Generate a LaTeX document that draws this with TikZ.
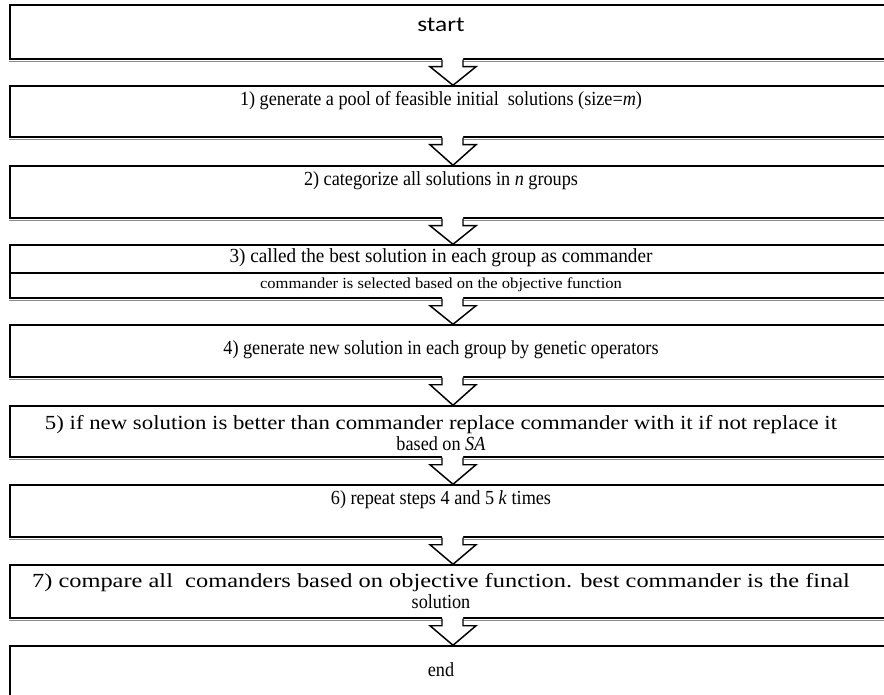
\documentclass[tikz,border=0pt]{standalone}
\usepackage{fontspec}
\setmainfont{Liberation Serif}
\newfontfamily\calibrifont{Carlito}
\usetikzlibrary{calc}
\newcommand\sq[2][0.91]{\scalebox{#1}[1]{#2}}
\newcommand\blkarrow[2]{%
  \fill[white] ($(#1.south)+(-11,-2.5)$) -- ($(#1.south)+(-11,7)$) -- ($(#1.south)+(-23,7)$) -- (#2.north)
     -- ($(#1.south)+(23,7)$) -- ($(#1.south)+(10,7)$) -- ($(#1.south)+(10,-2.5)$) -- cycle;
  \draw[blockarrow] ($(#1.south)+(-11,0)$) -- ($(#1.south)+(-11,7)$) -- ($(#1.south)+(-23,7)$) -- (#2.north)
     -- ($(#1.south)+(23,7)$) -- ($(#1.south)+(10,7)$) -- ($(#1.south)+(10,0)$);}
\begin{document}
\begin{tikzpicture}[x=0.75pt,y=-0.75pt,
  box/.style={draw=black, line width=1.1pt, minimum width=886*0.75pt, inner sep=0pt, fill=white},
  txt/.style={inner sep=0pt, font=\fontsize{15}{15.75}\selectfont, align=center},
  smalltxt/.style={inner sep=0pt, font=\fontsize{11.5}{12}\selectfont, align=center},
  sanstxt/.style={inner sep=0pt, font=\calibrifont\fontsize{16}{18}\selectfont},
  shadowline/.style={draw=black!45, line width=0.9pt},
  blockarrow/.style={draw=black, line width=1.1pt, line join=miter}
]
\useasboundingbox (0,0) rectangle (884,695);
\clip (0,0) rectangle (884,695);
\fill[white] (0,0) rectangle (884,695);

% boxes
\node[box, minimum height=54*0.75pt] (s)   at (453,32)    {};
\node[box, minimum height=51*0.75pt] (b1)  at (453,111.5) {};
\node[box, minimum height=52*0.75pt] (b2)  at (453,192)   {};
\node[box, minimum height=28*0.75pt] (b3a) at (453,259)   {};
\node[box, minimum height=25*0.75pt] (b3b) at (453,285.5) {};
\node[box, minimum height=52*0.75pt] (b4)  at (453,351)   {};
\node[box, minimum height=51*0.75pt] (b5)  at (453,431.5) {};
\node[box, minimum height=52*0.75pt] (b6)  at (453,511)   {};
\node[box, minimum height=53*0.75pt] (b7)  at (453,591.5) {};
\node[box, minimum height=64*0.75pt] (e)   at (453,678)   {};

% bottom shadows
\foreach \n in {s,b1,b2,b3b,b4,b5,b6,b7}
  \draw[shadowline] ([yshift=-1.4pt]\n.south west) -- ([yshift=-1.4pt]\n.south east);

% block arrows
\blkarrow{s}{b1}
\blkarrow{b1}{b2}
\blkarrow{b2}{b3a}
\blkarrow{b3b}{b4}
\blkarrow{b4}{b5}
\blkarrow{b5}{b6}
\blkarrow{b6}{b7}
\blkarrow{b7}{e}

% texts
\node[sanstxt] (ts) at (441,25) {\sq[1.19]{start}};
\node[txt] (t1) at (441,101) {\sq{1) generate a pool of feasible initial~ solutions (size=\textit{m})}};
\node[txt] (t2) at (441,181) {\sq{2) categorize all solutions in \textit{n} groups}};
\node[txt] (t3a) at (441,257.5) {\sq[0.96]{3) called the best solution in each group as commander}};
\node[smalltxt] (t3b) at (441,285) {\sq[1.08]{commander is selected based on the objective function}};
\node[txt] (t4) at (441,350) {\sq{4) generate new solution in each group by genetic operators}};
\node[txt] (t5) at (441,433) {\sq[1.14]{5) if new solution is better than commander replace commander with it if not replace it}\\ \sq{based on \textit{SA}}};
\node[txt] (t6) at (441,500) {\sq{6) repeat steps 4 and 5 \textit{k} times}};
\node[txt] (t7) at (441,591) {\sq[1.22]{7) compare all~ comanders based on objective function. best commander is the final}\\ \sq{solution}};
\node[txt] (te) at (441,670) {\sq{end}};
\end{tikzpicture}
\end{document}
